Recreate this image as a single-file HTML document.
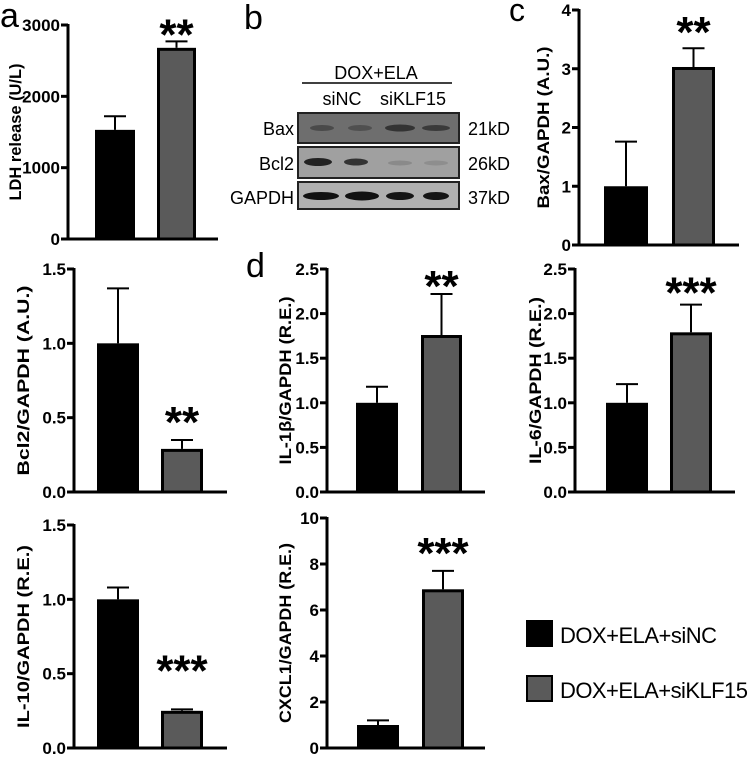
<!DOCTYPE html>
<html><head><meta charset="utf-8"><style>
html,body{margin:0;padding:0;background:#fff;}
svg{display:block;font-family:"Liberation Sans",Arial,sans-serif;}
</style></head><body>
<svg id="fig" width="749" height="757" viewBox="0 0 749 757" xmlns="http://www.w3.org/2000/svg">
<g id="blot">
  <text x="0" y="27" font-size="34">a</text>
  <text x="244" y="29" font-size="34">b</text>
  <text x="509" y="21" font-size="32">c</text>
  <text x="246" y="277" font-size="34">d</text>
  <text x="376" y="79" font-size="18" text-anchor="middle">DOX+ELA</text>
  <line x1="302" y1="83" x2="452" y2="83" stroke="#000" stroke-width="1.5"/>
  <text x="342" y="105" font-size="18" text-anchor="middle">siNC</text>
  <text x="413" y="105" font-size="18" text-anchor="middle">siKLF15</text>
  <text x="294" y="135" font-size="18" text-anchor="end">Bax</text>
  <text x="294" y="170" font-size="18" text-anchor="end">Bcl2</text>
  <text x="294" y="204" font-size="18" text-anchor="end">GAPDH</text>
  <text x="468" y="135" font-size="18">21kD</text>
  <text x="468" y="170" font-size="18">26kD</text>
  <text x="468" y="204" font-size="18">37kD</text>
  <rect x="298" y="113" width="161" height="30" fill="#6e6e6e" stroke="#222" stroke-width="2"/>
  <rect x="298" y="147" width="161" height="31" fill="#a0a0a0" stroke="#222" stroke-width="2"/>
  <rect x="298" y="182" width="161" height="27" fill="#b0b0b0" stroke="#222" stroke-width="2"/>
  <ellipse cx="322" cy="128" rx="12" ry="3" fill="#4a4a4a"/>
  <ellipse cx="360" cy="128" rx="12" ry="3" fill="#505050"/>
  <ellipse cx="400" cy="128" rx="15" ry="3.5" fill="#333"/>
  <ellipse cx="436" cy="128" rx="14" ry="3" fill="#3a3a3a"/>
  <ellipse cx="318" cy="162" rx="14" ry="4" fill="#222"/>
  <ellipse cx="356" cy="162" rx="12" ry="3.5" fill="#333"/>
  <ellipse cx="400" cy="163" rx="12" ry="2.5" fill="#8a8a8a"/>
  <ellipse cx="436" cy="163" rx="12" ry="2.5" fill="#8e8e8e"/>
  <ellipse cx="321" cy="196" rx="18" ry="4" fill="#111"/>
  <ellipse cx="362" cy="196" rx="17" ry="4.5" fill="#111"/>
  <ellipse cx="400" cy="196" rx="14" ry="4" fill="#151515"/>
  <ellipse cx="436" cy="196" rx="13" ry="4" fill="#151515"/>
</g>
<g id="legend">
  <rect x="527" y="621" width="25" height="25" fill="#000" stroke="#000" stroke-width="2"/>
  <text x="560" y="643" font-size="22" textLength="157">DOX+ELA+siNC</text>
  <rect x="527" y="676" width="25" height="25" fill="#5a5a5a" stroke="#000" stroke-width="2"/>
  <text x="560" y="698" font-size="22" textLength="188">DOX+ELA+siKLF15</text>
</g>
</svg>
<script>
// Data
const panelNames = ["ldh","bax","bcl2","il1b","il6","il10","cxcl1"];
const yTitles = ["LDH release (U/L)","Bax/GAPDH (A.U.)","Bcl2/GAPDH (A.U.)","IL-1β/GAPDH (R.E.)","IL-6/GAPDH (R.E.)","IL-10/GAPDH (R.E.)","CXCL1/GAPDH (R.E.)"];
const sincValues = [1530, 1.0, 1.0, 1.0, 1.0, 1.0, 1.0];
const sincErrors = [190, 0.76, 0.37, 0.18, 0.21, 0.08, 0.2];
const siklfValues = [2680, 3.03, 0.29, 1.76, 1.79, 0.25, 6.9];
const siklfErrors = [90, 0.32, 0.06, 0.46, 0.31, 0.01, 0.8];
const stars = ["**","**","**","**","***","***","***"];
const yMax = [3000, 4, 1.5, 2.5, 2.5, 1.5, 10];
const tickLabels = [
  ["0","1000","2000","3000"],
  ["0","1","2","3","4"],
  ["0.0","0.5","1.0","1.5"],
  ["0.0","0.5","1.0","1.5","2.0","2.5"],
  ["0.0","0.5","1.0","1.5","2.0","2.5"],
  ["0.0","0.5","1.0","1.5"],
  ["0","2","4","6","8","10"]
];
// Layout (pixels)
const layout = [
  {ax:68, top:25, bot:239, xEnd:218, b1:[95,135], b2:[157,196], tx:15, tl:137},
  {ax:579, top:10, bot:245, xEnd:739, b1:[604,648], b2:[672,715], tx:543, tl:162},
  {ax:74, top:269, bot:492, xEnd:227, b1:[97,139], b2:[161,203], tx:23, tl:190},
  {ax:327, top:269, bot:492, xEnd:485, b1:[356,398], b2:[421,462], tx:285, tl:168},
  {ax:575, top:269, bot:492, xEnd:735, b1:[606,648], b2:[670,712], tx:535, tl:167},
  {ax:74, top:525, bot:748, xEnd:227, b1:[97,139], b2:[161,203], tx:23, tl:183},
  {ax:327, top:518, bot:748, xEnd:485, b1:[357,399], b2:[422,464], tx:285, tl:180}
];
const starGap = [12, 21, 23, 13, 17, 44, 23];

const NS="http://www.w3.org/2000/svg";
const svg=document.getElementById('fig');
function mk(tag, attrs, parent){const e=document.createElementNS(NS,tag);for(const k in attrs)e.setAttribute(k,attrs[k]);(parent||svg).appendChild(e);return e;}

panelNames.forEach((name,i)=>{
  const L=layout[i];
  const y=v=>L.bot-(v/yMax[i])*(L.bot-L.top);
  const g=mk('g',{});
  
  
  const cy=(L.top+L.bot)/2;
  const t=mk('text',{x:L.tx,y:cy+6,'font-size':17,'font-weight':'bold','text-anchor':'middle',textLength:L.tl,lengthAdjust:'spacingAndGlyphs',transform:`rotate(-90 ${L.tx} ${cy})`},g);
  t.textContent=yTitles[i];
  
  
  const vals=[sincValues[i],siklfValues[i]], errs=[sincErrors[i],siklfErrors[i]];
  [L.b1,L.b2].forEach((b,j)=>{
    const cx=(b[0]+b[1])/2, top=y(vals[j]);
    const el=mk('line',{x1:cx,y1:top,x2:cx,y2:y(vals[j]+errs[j]),stroke:'#000','stroke-width':2},g);
    
    
    const cap=mk('line',{x1:cx-11,y1:y(vals[j]+errs[j]),x2:cx+11,y2:y(vals[j]+errs[j]),stroke:'#000','stroke-width':2},g);
    
    
    const r=mk('rect',{x:b[0]+1.5,y:top+1.5,width:b[1]-b[0]-3,height:Math.max(0,L.bot-top-1.5),fill:j?'#5a5a5a':'#000',stroke:'#000','stroke-width':3},g);
    
    
  });
  const hi=siklfValues[i]+siklfErrors[i];
  const s=mk('text',{x:(L.b2[0]+L.b2[1])/2,y:y(hi)-starGap[i]+20,'font-size':44,'font-weight':'bold','text-anchor':'middle'},g);
  s.textContent=stars[i];
  
  
  const ya=mk('line',{x1:L.ax,y1:L.top-1,x2:L.ax,y2:L.bot+1.5,stroke:'#000','stroke-width':3},g);
  
  
  const xa=mk('line',{x1:L.ax-7,y1:L.bot,x2:L.xEnd,y2:L.bot,stroke:'#000','stroke-width':3},g);
  
  
  const n=tickLabels[i].length;
  tickLabels[i].forEach((lab,k)=>{
    const v=yMax[i]*k/(n-1), ty=y(v);
    const tk=mk('line',{x1:L.ax-7,y1:ty,x2:L.ax,y2:ty,stroke:'#000','stroke-width':3},g);
    
    
    const tl=mk('text',{x:L.ax-8,y:ty+6,'font-size':17,'font-weight':'bold','text-anchor':'end'},g);
    tl.textContent=lab;
    
    
  });
});
</script>
</body></html>
